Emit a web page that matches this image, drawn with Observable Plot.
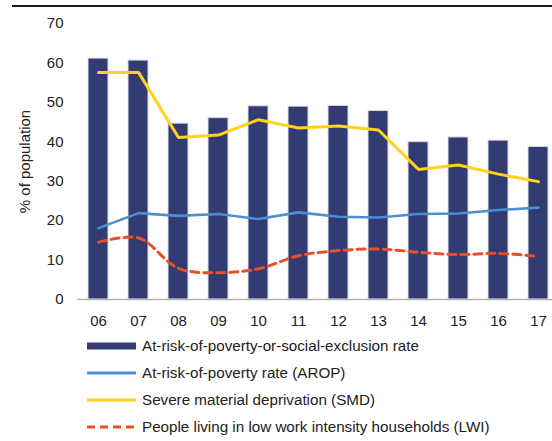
<!DOCTYPE html>
<html>
<head>
<meta charset="utf-8">
<script src="https://cdn.jsdelivr.net/npm/d3@7"></script>
<script src="https://cdn.jsdelivr.net/npm/@observablehq/plot@0.6"></script>
<style>
  html, body { margin: 0; padding: 0; background: #fff; }
  body { width: 552px; height: 441px; position: relative; overflow: hidden; font-family: "Liberation Sans", Arial, sans-serif; }
  #rule { position: absolute; left: 12px; right: 0; top: 5px; height: 2px; background: #1a1a1a; }
  #chart { position: absolute; left: 0; top: 0; }
  #legend { position: absolute; left: 87px; top: 332px; font-size: 15.2px; color: #222; }
  .row { display: flex; align-items: center; height: 27px; }
  .row svg { margin-right: 6px; }
</style>
</head>
<body>
<div id="chart"></div>
<div id="rule"></div>
<div id="legend"></div>
<script>
const years = ["06","07","08","09","10","11","12","13","14","15","16","17"];
const arope = [61.1, 60.6, 44.6, 46.0, 49.0, 48.9, 49.1, 47.8, 39.9, 41.1, 40.3, 38.7];
const arop  = [18.1, 21.9, 21.2, 21.7, 20.4, 22.1, 21.0, 20.8, 21.7, 21.8, 22.7, 23.3];
const smd   = [57.6, 57.6, 41.1, 41.7, 45.6, 43.5, 44.0, 43.0, 33.0, 34.1, 31.8, 29.9];
const lwi   = [14.5, 15.6, 7.9, 6.8, 7.8, 11.1, 12.4, 12.8, 12.0, 11.4, 11.7, 10.9];
const yTicks = [0, 10, 20, 30, 40, 50, 60, 70];
const yLabel = "% of population";
const seriesNames = [
  "At-risk-of-poverty-or-social-exclusion rate",
  "At-risk-of-poverty rate (AROP)",
  "Severe material deprivation (SMD)",
  "People living in low work intensity households (LWI)"
];

const colors = { bar: "#333b73", arop: "#4a8fd3", smd: "#ffd21c", lwi: "#e8502a" };

const barData = years.map((y, i) => ({year: y, value: arope[i]}));
const lineData = (arr) => years.map((y, i) => ({year: y, value: arr[i]}));

const W = 552, H = 338;
const chart = Plot.plot({
  width: W,
  height: H,
  marginTop: 23,
  marginBottom: 39,
  marginLeft: 77,
  marginRight: 0,
  style: { fontFamily: "Liberation Sans, Arial, sans-serif", fontSize: "15px", color: "#222", background: "#fff" },
  x: { domain: years, range: [76.6, 559], paddingInner: 0.5, paddingOuter: 0.25, label: null },
  y: { domain: [0, 70], label: null },
  marks: [
    Plot.barY(barData, { x: "year", y: "value", fill: colors.bar, stroke: "#d8dbe6", strokeWidth: 1 }),
    Plot.lineY(lineData(arop), { x: "year", y: "value", stroke: colors.arop, strokeWidth: 2.6 }),
    Plot.lineY(lineData(smd), { x: "year", y: "value", stroke: colors.smd, strokeWidth: 3 }),
    Plot.lineY(lineData(lwi), { x: "year", y: "value", stroke: colors.lwi, strokeWidth: 3, strokeDasharray: "8,5", curve: "catmull-rom" }),
    Plot.axisY({ ticks: yTicks, tickSize: 0, tickPadding: 14, fontSize: 15, label: null }),
    Plot.axisX({ tickSize: 0, tickPadding: 16, fontSize: 15, label: null }),
    Plot.ruleX([0], { x: () => null, frameAnchor: "left", stroke: "#b3b3b3", strokeWidth: 1.5 }),
    Plot.ruleY([0], { stroke: "#b3b3b3", strokeWidth: 1.5 }),
    Plot.text([yLabel], { frameAnchor: "left", textAnchor: "middle", dx: -52, rotate: -90, fontSize: 15, fill: "#222" })
  ]
});
document.getElementById("chart").appendChild(chart);

// Legend
const legend = d3.select("#legend");
const swatches = [
  { type: "bar", color: colors.bar },
  { type: "line", color: colors.arop },
  { type: "line", color: colors.smd },
  { type: "dash", color: colors.lwi }
];
seriesNames.forEach((name, i) => {
  const row = legend.append("div").attr("class", "row");
  const s = row.append("svg").attr("width", 49).attr("height", 10);
  const sw = swatches[i];
  if (sw.type === "bar") {
    s.append("rect").attr("x", 0).attr("y", 1.5).attr("width", 49).attr("height", 7).attr("fill", sw.color);
  } else {
    s.append("line").attr("x1", 0).attr("x2", 49).attr("y1", 5).attr("y2", 5)
      .attr("stroke", sw.color).attr("stroke-width", 3)
      .attr("stroke-dasharray", sw.type === "dash" ? "8,5" : null);
  }
  row.append("span").text(name);
});
</script>
</body>
</html>
